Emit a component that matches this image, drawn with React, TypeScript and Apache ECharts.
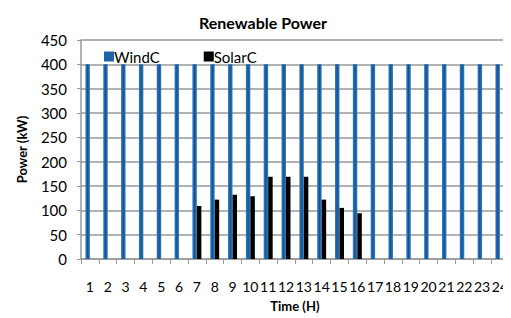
import React, { useEffect, useRef } from "react";
import * as echarts from "echarts";

const hours = ["1","2","3","4","5","6","7","8","9","10","11","12","13","14","15","16","17","18","19","20","21","22","23","24"];
const windC = [400,400,400,400,400,400,400,400,400,400,400,400,400,400,400,400,400,400,400,400,400,400,400,400];
const solarC = [0,0,0,0,0,0,109,122,132,129,169,169,169,122,105,94,0,0,0,0,0,0,0,0];

export default function App() {
  const ref = useRef<HTMLDivElement>(null);
  useEffect(() => {
    const chart = echarts.init(ref.current!, null, { renderer: "svg" });
    const font = "Lato, 'Open Sans', sans-serif";
    chart.setOption({
      animation: false,
      title: {
        text: "Renewable Power",
        left: 258,
        top: 9,
        textAlign: "center",
        textStyle: { fontFamily: font, fontSize: 16, fontWeight: "bold", color: "#000" },
      },
      legend: {
        left: 99,
        top: 44,
        itemWidth: 10,
        itemHeight: 10,
        itemGap: 44,
        textStyle: { fontFamily: font, fontSize: 15, color: "#000", padding: [0, 0, 0, -5] },
        data: [
          { name: "WindC", icon: "rect", itemStyle: { color: "#1f63a8" } },
          { name: "SolarC", icon: "rect", itemStyle: { color: "#000" } },
        ],
      },
      grid: { left: 81, right: 0, top: 40, bottom: 59, containLabel: false },
      xAxis: {
        type: "category",
        data: hours,
        name: "Time (H)",
        nameLocation: "middle",
        nameGap: 40,
        nameTextStyle: { fontFamily: font, fontSize: 13, fontWeight: "bold", color: "#000" },
        axisLine: { lineStyle: { color: "#999", width: 1.5 } },
        axisTick: { show: true, alignWithLabel: false, length: 5, lineStyle: { color: "#999" } },
        axisLabel: { fontFamily: font, fontSize: 14, color: "#000", margin: 20, interval: 0 },
      },
      yAxis: {
        type: "value",
        min: 0,
        max: 450,
        interval: 50,
        name: "Power (kW)",
        nameLocation: "middle",
        nameGap: 53,
        nameTextStyle: { fontFamily: font, fontSize: 13, fontWeight: "bold", color: "#000" },
        axisLine: { show: true, lineStyle: { color: "#999", width: 1.5 } },
        axisTick: { show: true, length: 4, lineStyle: { color: "#999" } },
        axisLabel: { fontFamily: font, fontSize: 15, color: "#000", margin: 14 },
        splitLine: { lineStyle: { color: "#999", width: 1.5 } },
      },
      series: [
        {
          name: "WindC",
          type: "bar",
          data: windC,
          barWidth: 4.5,
          barGap: "0%",
          itemStyle: {
            color: new echarts.graphic.LinearGradient(0, 0, 1, 0, [
              { offset: 0, color: "#3d80c4" },
              { offset: 0.5, color: "#0f5596" },
              { offset: 1, color: "#3d7fbf" },
            ]),
          },
        },
        {
          name: "SolarC",
          type: "bar",
          data: solarC,
          barWidth: 4.5,
          barGap: "0%",
          itemStyle: { color: "#000" },
        },
      ],
    });
    return () => chart.dispose();
  }, []);
  return <div ref={ref} style={{ width: 511, height: 318, marginLeft: -8, marginTop: -8 }} />;
}
